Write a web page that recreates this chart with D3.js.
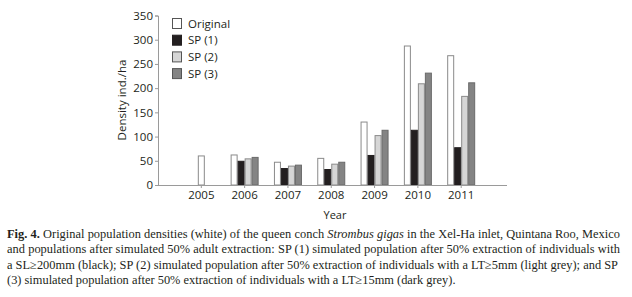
<!DOCTYPE html>
<html>
<head>
<meta charset="utf-8">
<script src="https://cdn.jsdelivr.net/npm/d3@7"></script>
<style>
  body { margin: 0; background: #fff; }
  text { fill: #231f20; }
</style>
</head>
<body>
<script>
const width = 632, height = 297;

const years = ["2005", "2006", "2007", "2008", "2009", "2010", "2011"];
const seriesNames = ["Original", "SP (1)", "SP (2)", "SP (3)"];
const original = [60, 62, 47, 55, 130, 287, 267];
const sp1 = [null, 49, 34, 32, 61, 113, 77];
const sp2 = [null, 54, 39, 43, 102, 209, 183];
const sp3 = [null, 57, 41, 47, 113, 231, 211];
const yTicks = [0, 50, 100, 150, 200, 250, 300, 350];

const fills = ["#ffffff", "#231f20", "#d6d6d6", "#848484"];
const strokes = ["#8a8a8a", "#231f20", "#8a8a8a", "#6a6a6a"];

const allSeries = [original, sp1, sp2, sp3];
const rows = years.map((yr, i) => ({
    year: yr,
    values: allSeries.map((s, k) => ({ k: k, v: s[i] })).filter(d => d.v != null)
}));

const svg = d3.select("body")
    .append("svg")
    .attr("width", width)
    .attr("height", height);

const sans = "'Open Sans', 'Noto Sans', sans-serif";

const x = d3.scaleBand()
    .domain(years)
    .range([158, 504.5])
    .paddingInner(0)
    .paddingOuter(0.5);

const y = d3.scaleLinear()
    .domain([0, 350])
    .range([185, 15.5]);

const barW = 7;

// bars
const groups = svg.selectAll(".grp")
    .data(rows)
    .enter()
    .append("g")
    .attr("class", "grp");

groups.selectAll("rect")
    .data(d => d.values.map((v, j) => ({ ...v, j: j, n: d.values.length, year: d.year })))
    .enter()
    .append("rect")
    .attr("x", d => x(d.year) + x.bandwidth() / 2 - d.n * barW / 2 + d.j * barW + 0.5)
    .attr("y", d => y(d.v))
    .attr("width", barW - 1)
    .attr("height", d => y(0) - y(d.v))
    .attr("fill", d => fills[d.k])
    .attr("stroke", d => strokes[d.k])
    .attr("stroke-width", 1);

// y axis
const yAxis = svg.append("g")
    .attr("transform", "translate(158,0)")
    .call(d3.axisLeft(y).tickValues(yTicks).tickSize(3).tickPadding(2));
yAxis.selectAll("path, line").attr("stroke", "#9a9a9a");
yAxis.selectAll("text")
    .attr("font-family", sans)
    .attr("font-size", "11.5px")
    .style("fill", "#231f20");

// x axis
const xAxis = svg.append("g")
    .attr("transform", "translate(0,185)")
    .call(d3.axisBottom(x).tickSize(3).tickPadding(3));
xAxis.select(".domain").remove();
xAxis.selectAll("line").attr("stroke", "#9a9a9a");
xAxis.selectAll("text")
    .attr("font-family", sans)
    .attr("font-size", "11.5px")
    .style("fill", "#231f20");
svg.append("line")
    .attr("x1", 158).attr("x2", 507)
    .attr("y1", 185.5).attr("y2", 185.5)
    .attr("stroke", "#9a9a9a");

// axis titles
svg.append("text")
    .attr("transform", "translate(126,100) rotate(-90)")
    .attr("text-anchor", "middle")
    .attr("font-family", sans)
    .attr("font-size", "11.5px")
    .text("Density ind./ha");

svg.append("text")
    .attr("x", 335)
    .attr("y", 219)
    .attr("text-anchor", "middle")
    .attr("font-family", sans)
    .attr("font-size", "11px")
    .text("Year");

// legend
const legend = svg.selectAll(".leg")
    .data(seriesNames)
    .enter()
    .append("g")
    .attr("class", "leg")
    .attr("transform", (d, i) => `translate(172, ${18 + i * 16.7})`);

legend.append("rect")
    .attr("x", 0.5).attr("y", 0.5)
    .attr("width", 9).attr("height", 10)
    .attr("fill", (d, i) => fills[i])
    .attr("stroke", (d, i) => i === 1 ? "#231f20" : "#555");

legend.append("text")
    .attr("x", 16)
    .attr("y", 9.5)
    .attr("font-family", sans)
    .attr("font-size", "11.5px")
    .text(d => d);

// caption
const serif = "'Liberation Serif', 'Times New Roman', serif";
const caption = [
    { w: 613, parts: [["Fig. 4.", "bold"], [" Original population densities (white) of the queen conch ", ""], ["Strombus gigas", "italic"], [" in the Xel-Ha inlet, Quintana Roo, Mexico", ""]] },
    { w: 613, parts: [["and populations after simulated 50% adult extraction: SP (1) simulated population after 50% extraction of individuals with", ""]] },
    { w: 611, parts: [["a SL\u2265200mm (black); SP (2) simulated population after 50% extraction of individuals with a LT\u22655mm (light grey); and SP", ""]] },
    { w: null, parts: [["(3) simulated population after 50% extraction of individuals with a LT\u226515mm (dark grey).", ""]] }
];

caption.forEach((line, i) => {
    const t = svg.append("text")
        .attr("x", 7)
        .attr("y", 238 + i * 15.3)
        .attr("font-family", serif)
        .attr("font-size", "12.4px");
    line.parts.forEach(p => {
        const ts = t.append("tspan").text(p[0]);
        if (p[1] === "bold") ts.attr("font-weight", "bold");
        if (p[1] === "italic") ts.attr("font-style", "italic");
    });
    if (line.w) t.attr("textLength", line.w).attr("lengthAdjust", "spacing");
});
</script>
</body>
</html>
